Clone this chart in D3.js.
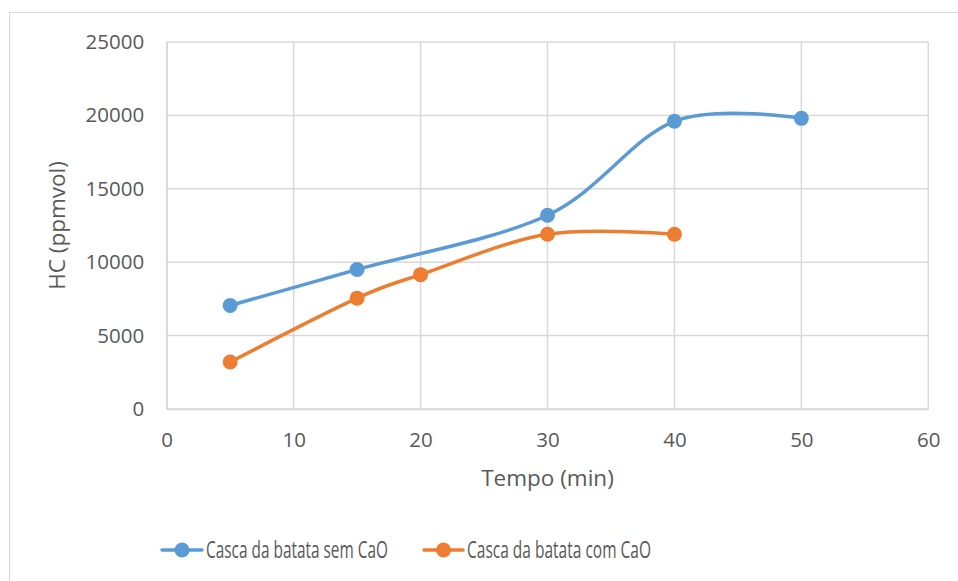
<!DOCTYPE html>
<html><head><meta charset="utf-8">
<script src="https://cdn.jsdelivr.net/npm/d3@7"></script>
<style>html,body{margin:0;padding:0;background:#fff;}svg{display:block;}</style>
</head><body>
<svg id="c" width="958" height="581"></svg>
<script>
const xTicks = [0,10,20,30,40,50,60];
const yTicks = [0,5000,10000,15000,20000,25000];
const semTempo = [5,15,30,40,50];
const semHC = [7050,9500,13200,19600,19800];
const comTempo = [5,15,20,30,40];
const comHC = [3200,7550,9150,11900,11900];
const seriesNames = ["Casca da batata sem CaO","Casca da batata com CaO"];
const colors = ["#5B9BD5","#ED7D31"];
const xTitle = "Tempo (min)";
const yTitle = "HC (ppmvol)";

const svg = d3.select("#c");
const font = "'Open Sans', sans-serif";
const textCol = "#595959";
const gridCol = "#d9d9d9";

svg.append("rect").attr("x",9.5).attr("y",12.5).attr("width",960).attr("height",580)
  .attr("fill","#fff").attr("stroke",gridCol).attr("stroke-width",1);

const L=166.7,R=928.3,T=42,B=409;
const x = d3.scaleLinear().domain([0,60]).range([L,R]);
const y = d3.scaleLinear().domain([0,25000]).range([B,T]);

const g = svg.append("g");
g.selectAll(".hg").data(yTicks).join("line")
  .attr("x1",L).attr("x2",R).attr("y1",d=>y(d)).attr("y2",d=>y(d))
  .attr("stroke",gridCol).attr("stroke-width",1.5);
g.selectAll(".vg").data(xTicks).join("line")
  .attr("y1",T).attr("y2",B).attr("x1",d=>x(d)).attr("x2",d=>x(d))
  .attr("stroke",gridCol).attr("stroke-width",1.5);

const yAxis = d3.axisLeft(y).tickValues(yTicks).tickSize(0).tickPadding(22).tickFormat(d3.format("d"));
const ya = svg.append("g").attr("transform",`translate(${L},0)`).call(yAxis);
const xAxis = d3.axisBottom(x).tickValues(xTicks).tickSize(0).tickPadding(20).tickFormat(d3.format("d"));
const xa = svg.append("g").attr("transform",`translate(0,${B})`).call(xAxis);
[ya,xa].forEach(a=>{
  a.select(".domain").attr("stroke",gridCol).attr("stroke-width",1.5);
  a.selectAll("text").attr("fill",textCol).style("font-family",font).style("font-size","20.5px");
});
xa.selectAll("text").attr("dy","0.35em").attr("y",31);
ya.selectAll("text").attr("x",-22.5);

svg.append("text").attr("x",(L+R)/2).attr("y",478).attr("dy","0.35em")
  .attr("text-anchor","middle").attr("fill",textCol)
  .style("font-family",font).style("font-size","22.5px").text(xTitle);
svg.append("text").attr("transform",`translate(57,${(T+B)/2}) rotate(-90)`).attr("dy","0.35em")
  .attr("text-anchor","middle").attr("fill",textCol)
  .style("font-family",font).style("font-size","22.5px").text(yTitle);

const line = d3.line().x(d=>x(d[0])).y(d=>y(d[1])).curve(d3.curveCardinal.tension(0));
const series = [d3.zip(semTempo,semHC), d3.zip(comTempo,comHC)];
series.forEach((s,i)=>{
  svg.append("path").datum(s).attr("d",line).attr("fill","none")
    .attr("stroke",colors[i]).attr("stroke-width",3.5).attr("stroke-linecap","round");
  svg.selectAll(null).data(s).join("circle")
    .attr("cx",d=>x(d[0])).attr("cy",d=>y(d[1])).attr("r",7.5).attr("fill",colors[i]);
});

const leg = [{x1:162,x2:202,tx:206,tw:182},{x1:424,x2:463,tx:467,tw:184}];
leg.forEach((l,i)=>{
  const ly=550;
  svg.append("line").attr("x1",l.x1).attr("x2",l.x2).attr("y1",ly).attr("y2",ly)
    .attr("stroke",colors[i]).attr("stroke-width",3.5).attr("stroke-linecap","round");
  svg.append("circle").attr("cx",(l.x1+l.x2)/2).attr("cy",ly).attr("r",7.5).attr("fill",colors[i]);
  svg.append("text").attr("x",l.tx).attr("y",ly).attr("dy","0.35em").attr("fill",textCol)
    .style("font-family",font).style("font-size","23px")
    .attr("textLength",l.tw).attr("lengthAdjust","spacingAndGlyphs").text(seriesNames[i]);
});
</script>
</body></html>
